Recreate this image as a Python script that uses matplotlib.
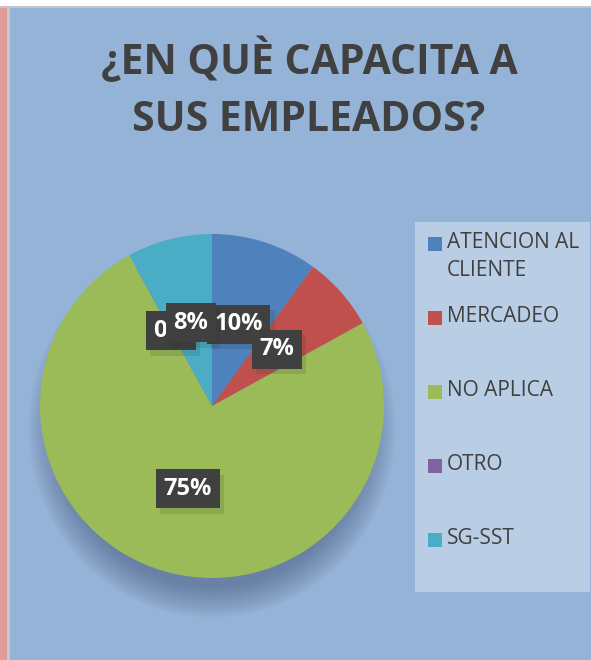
import numpy as np
import matplotlib.pyplot as plt
import matplotlib.patheffects as pe
from matplotlib.patches import Rectangle, Ellipse

plt.rcParams['hatch.color'] = '#5c5c5c'
plt.rcParams['hatch.linewidth'] = 2.0

categorias = ['ATENCION AL\nCLIENTE', 'MERCADEO', 'NO APLICA', 'OTRO', 'SG-SST']
porcentajes = [10, 7, 75, 0, 8]
colores = ['#4f81bd', '#c0504d', '#9bbb59', '#8064a2', '#4bacc6']
titulo = '¿EN QUÈ CAPACITA A\nSUS EMPLEADOS?'

W, H = 591, 660
fig = plt.figure(figsize=(W / 100, H / 100), dpi=100)
fig.patch.set_facecolor('#95b3d7')

# bordes del area de grafico
fig.patches.append(Rectangle((0, 1 - 7 / H), 1, 7 / H, transform=fig.transFigure,
                             facecolor='white', edgecolor='none', zorder=0))
fig.patches.append(Rectangle((0, 1 - 8 / H), 1, 1.5 / H, transform=fig.transFigure,
                             facecolor='#c4c4c4', edgecolor='none', zorder=0))
fig.patches.append(Rectangle((0, 0), 7 / W, 1 - 8 / H, transform=fig.transFigure,
                             facecolor='#e09a98', edgecolor='none', zorder=0))
fig.patches.append(Rectangle((7 / W, 0), 2.5 / W, 1 - 8 / H, transform=fig.transFigure,
                             facecolor='#c8c8c8', edgecolor='none', zorder=0))

fig.text(309 / W, 1 - 89 / H, titulo, ha='center', va='center', fontsize=29.5,
         fontweight='bold', family='Open Sans', color='#404040', linespacing=1.52)

# area del pastel
cx, cy, r = 212, 406, 173.5
half = 215
ax = fig.add_axes([(cx - half) / W, (H - cy - half) / H, 2 * half / W, 2 * half / H])
ax.set_xlim(-half / r, half / r)
ax.set_ylim(-half / r, half / r)
ax.axis('off')

# sombra difusa bajo el pastel
for k in range(16):
    s = 1.10 - k * 0.012
    ax.add_patch(Ellipse((0, -0.13), 2 * s * 0.97, 2 * s, facecolor='#34466a',
                         edgecolor='none', alpha=0.03, zorder=0))

wedges, _, autotexts = ax.pie(porcentajes, colors=colores, startangle=90,
                              counterclock=False, radius=1, pctdistance=0.5,
                              autopct=lambda p: f'{p:.0f}%',
                              wedgeprops=dict(linewidth=0))
for t in autotexts:
    t.set_color('white')
    t.set_fontsize(17)
    t.set_fontweight('bold')
    t.set_family('Open Sans')
    t.set_bbox(dict(boxstyle='square,pad=0.32', facecolor='#404040', edgecolor='none',
                    hatch='.'))
    t.get_bbox_patch().set_path_effects([
        pe.SimplePatchShadow(offset=(3, -4), shadow_rgbFace='#1e2a1a', alpha=0.13),
        pe.Normal()])

# leyenda
fig.patches.append(Rectangle((415 / W, 1 - 592 / H), 175 / W, 370 / H,
                             transform=fig.transFigure, facecolor='#b9cde5',
                             edgecolor='none', zorder=1))
ys = [244, 318, 392, 466, 540]
for cat, col, y in zip(categorias, colores, ys):
    fig.patches.append(Rectangle((428 / W, 1 - (y + 7) / H), 14 / W, 14 / H,
                                 transform=fig.transFigure, facecolor=col,
                                 edgecolor='none', zorder=2))
    fig.text(447 / W, 1 - (y - 12) / H, cat, ha='left', va='top', fontsize=15,
             family='Open Sans', color='#404040', linespacing=1.42, zorder=3)

fig.savefig('out.png', dpi=100, facecolor=fig.get_facecolor())
